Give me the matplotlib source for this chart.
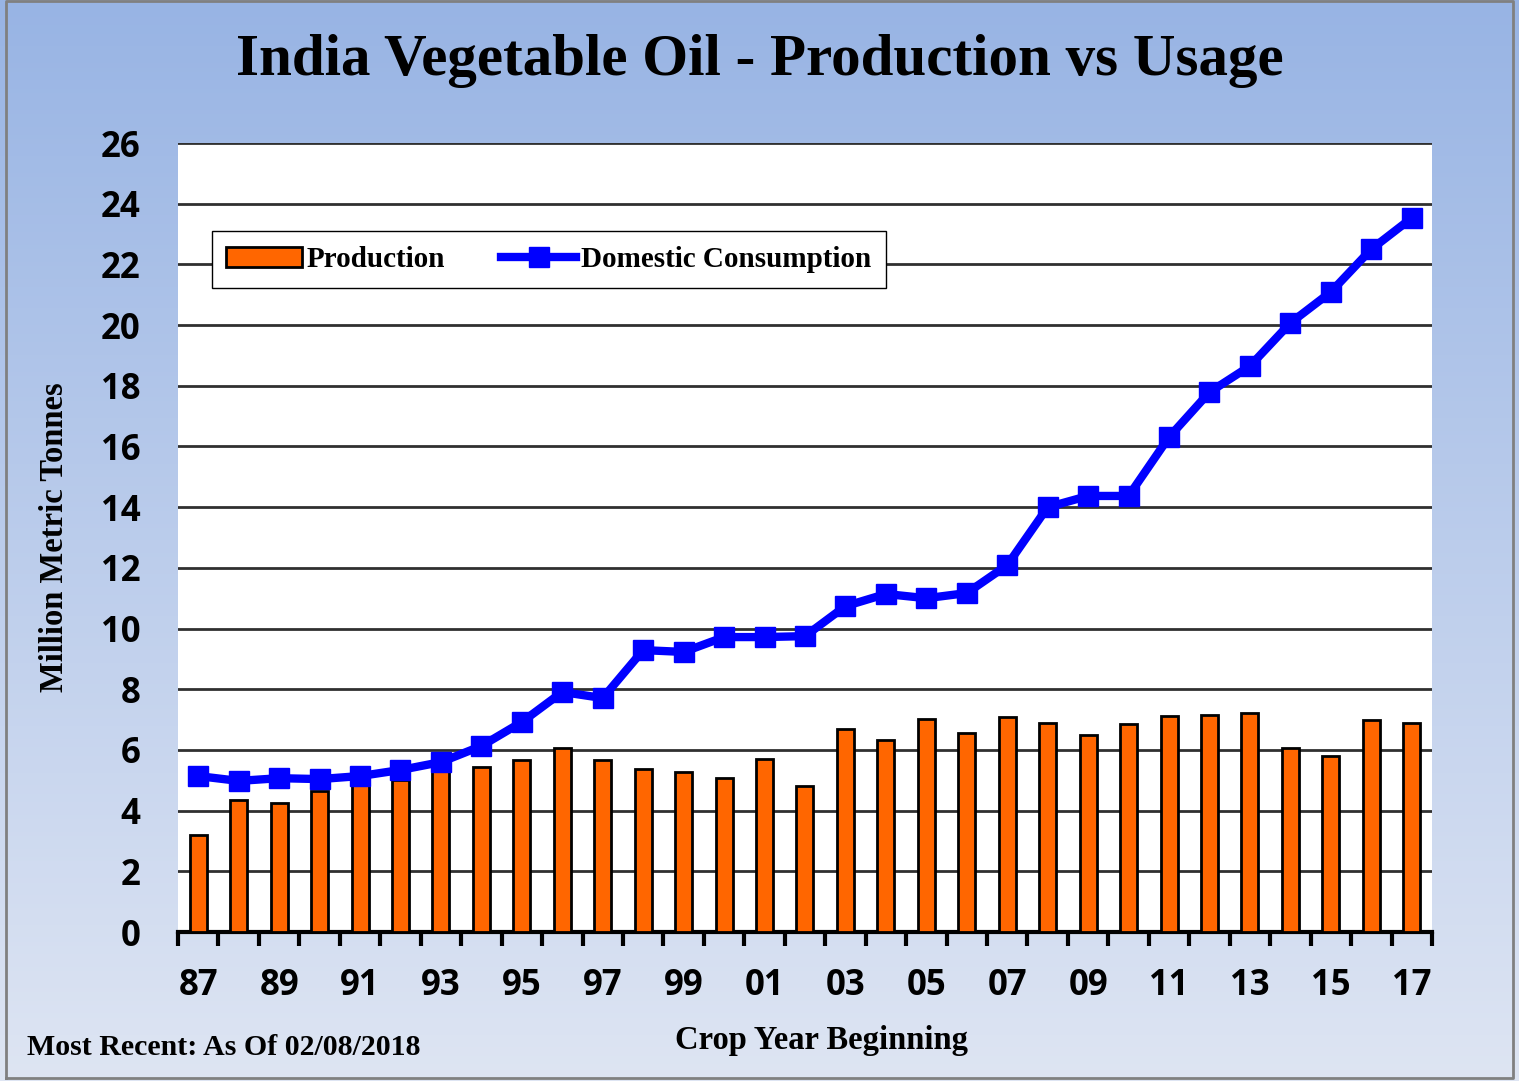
import matplotlib
matplotlib.use("Agg")
import matplotlib.pyplot as plt
import numpy as np

years = ["87", "88", "89", "90", "91", "92", "93", "94", "95", "96", "97", "98",
         "99", "00", "01", "02", "03", "04", "05", "06", "07", "08", "09", "10",
         "11", "12", "13", "14", "15", "16", "17"]
production = [3.2, 4.35, 4.25, 4.65, 4.85, 5.0, 5.3, 5.44, 5.67, 6.06, 5.67, 5.37,
              5.27, 5.07, 5.7, 4.81, 6.69, 6.33, 7.02, 6.56, 7.08, 6.89, 6.49, 6.85,
              7.12, 7.15, 7.22, 6.06, 5.8, 6.98, 6.89]
consumption = [5.14, 4.98, 5.07, 5.04, 5.14, 5.34, 5.6, 6.13, 6.92, 7.91, 7.71, 9.29,
               9.23, 9.72, 9.72, 9.75, 10.74, 11.14, 11.0, 11.17, 12.09, 14.0, 14.37, 14.37,
               16.31, 17.79, 18.65, 20.07, 21.09, 22.5, 23.53]

serif = "Liberation Serif"
sans = "Open Sans"

fig = plt.figure(figsize=(15.19, 10.81), dpi=100)

# gradient background
bg = fig.add_axes([0, 0, 1, 1], zorder=-10)
top_c = np.array([152, 180, 228]) / 255
bot_c = np.array([222, 229, 243]) / 255
t = np.linspace(0, 1, 256)[:, None]
grad = top_c * (1 - t[..., None]) + bot_c * t[..., None]
grad = np.repeat(grad, 2, axis=1)
bg.imshow(grad, aspect="auto", extent=[0, 1, 0, 1])
bg.plot([0.004, 0.996, 0.996, 0.004, 0.004], [0.003, 0.003, 0.999, 0.999, 0.003],
        color="#808080", lw=2)
bg.set_xlim(0, 1)
bg.set_ylim(0, 1)
bg.axis("off")

ax = fig.add_axes([0.1172, 0.1378, 0.8255, 0.7299])
ax.set_facecolor("white")
x = np.arange(len(years))

bars = ax.bar(x, production, width=0.42, color="#ff6600", edgecolor="black", linewidth=2,
              label="Production", zorder=3)
line, = ax.plot(x, consumption, color="#0000ff", lw=6, marker="s", markersize=15,
                label="Domestic Consumption", zorder=4)

ax.set_xlim(-0.5, len(years) - 0.5)
ax.set_ylim(0, 26)
ax.set_yticks(np.arange(0, 27, 2))
ax.yaxis.grid(True, color="#303030", lw=2, zorder=1)
ax.set_axisbelow(True)

ax.set_xticks(np.arange(-0.5, len(years), 1))
ax.set_xticklabels([])
ax.set_xticks(x[::2], minor=True)
ax.set_xticklabels(years[::2], minor=True)
ax.tick_params(axis="x", which="major", direction="out", length=10, width=3, color="black")
ax.tick_params(axis="x", which="minor", length=0, pad=26)
ax.tick_params(axis="y", length=0, pad=27)
for lab in ax.get_xticklabels(minor=True) + ax.get_yticklabels():
    lab.set_fontfamily(sans)
    lab.set_fontweight("bold")
    lab.set_fontsize(25)

for s in ["top", "right", "left"]:
    ax.spines[s].set_visible(False)
ax.spines["bottom"].set_linewidth(3)

ax.set_ylabel("Million Metric Tonnes", fontfamily=serif, fontweight="bold",
              fontsize=23.5, labelpad=22)
ax.set_xlabel("Crop Year Beginning", fontfamily=serif, fontweight="bold",
              fontsize=23.5)
ax.xaxis.set_label_coords(0.513, -0.118)

leg = ax.legend([bars, line], ["Production", "Domestic Consumption"],
                loc="upper left", bbox_to_anchor=(0.027, 0.888), ncol=2,
                prop={"family": serif, "weight": "bold", "size": 21},
                frameon=True, fancybox=False, borderpad=0.5, columnspacing=1.9,
                handlelength=2.6, handletextpad=0.15, borderaxespad=0)
leg.get_frame().set_edgecolor("black")
leg.get_frame().set_linewidth(1)
leg.get_frame().set_facecolor("white")
leg.get_frame().set_alpha(1)
leg.set_zorder(5)

fig.text(0.5, 0.944, "India Vegetable Oil - Production vs Usage", ha="center", va="center",
         fontfamily=serif, fontweight="bold", fontsize=42.5)
fig.text(0.018, 0.031, "Most Recent: As Of 02/08/2018", ha="left", va="center",
         fontfamily=serif, fontweight="bold", fontsize=21.5)

fig.savefig("out.png", dpi=100)
